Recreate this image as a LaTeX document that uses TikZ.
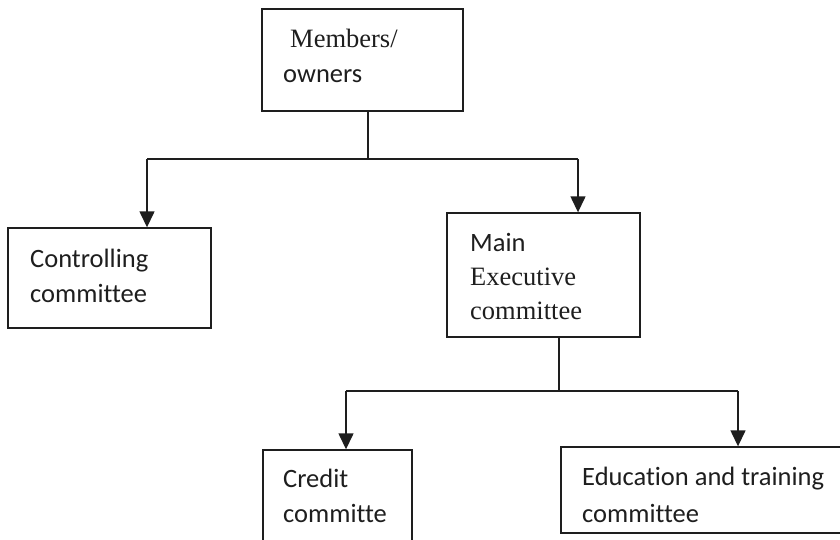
\documentclass[tikz,border=0pt]{standalone}
\usepackage{fontspec}
\setmainfont{Liberation Serif}
\newfontfamily\calfont[Ligatures=NoCommon]{Carlito}
\usetikzlibrary{arrows.meta}
\definecolor{ink}{HTML}{1E1E1E}
\tikzset{
  box/.style={draw=ink, line width=1.4pt, rectangle, inner sep=0pt},
  lbl/.style={anchor=base west, inner sep=0pt, text=ink, font=\fontsize{26.5}{30}\selectfont},
  clbl/.style={lbl, font=\calfont\fontsize{26.5}{30}\selectfont},
  conn/.style={draw=ink, line width=1.4pt},
  arr/.style={conn, -{Triangle[width=15pt,length=16pt]}},
}
\newcommand{\pbox}[5]{%
  \node[box, minimum width={(#4-#2)*1pt}, minimum height={(#5-#3)*1pt}] (#1) at ({(#2+#4)/2},{-(#3+#5)/2}) {};}
\begin{document}
\begin{tikzpicture}[x=1pt,y=1pt]
\path[use as bounding box, clip] (0,0) rectangle (840,-539);
\fill[white] (0,0) rectangle (840,-539);
% boxes
\pbox{m}{262}{9}{463}{111}
\pbox{c}{8}{228}{211}{328}
\pbox{e}{447}{213}{640}{337}
\pbox{cr}{263}{450}{412}{560}
\pbox{ed}{561}{447}{860}{533}
% texts
\node[lbl] (m1) at (290,-47) {Members/};
\node[clbl] (m2) at (283,-82) {owners};
\node[clbl] (c1) at (30,-267) {Controlling};
\node[clbl] (c2) at (30,-302) {committee};
\node[clbl] (e1) at (470,-251) {Main};
\node[lbl] (e2) at (470,-285) {Executive};
\node[lbl] (e3) at (470,-319) {committee};
\node[clbl] (r1) at (283,-487) {Credit};
\node[clbl] (r2) at (283,-522) {committe};
\node[clbl] (d1) at (582,-485) {Education and training};
\node[clbl] (d2) at (582,-522) {committee};
% connectors
\coordinate (j1) at (368,-159);
\coordinate (l1) at (147,-159);
\coordinate (r1c) at (578,-159);
\draw[conn] (m.south -| j1) -- (j1);
\draw[conn] (l1) -- (r1c);
\draw[arr] (l1) -- (l1 |- c.north);
\draw[arr] (r1c) -- (r1c |- e.north);
\coordinate (j2) at (559,-391);
\coordinate (l2) at (346,-391);
\coordinate (r2c) at (738,-391);
\draw[conn] (e.south -| j2) -- (j2);
\draw[conn] (l2) -- (r2c);
\draw[arr] (l2) -- (l2 |- cr.north);
\draw[arr] (r2c) -- (r2c |- ed.north);
\end{tikzpicture}
\end{document}
